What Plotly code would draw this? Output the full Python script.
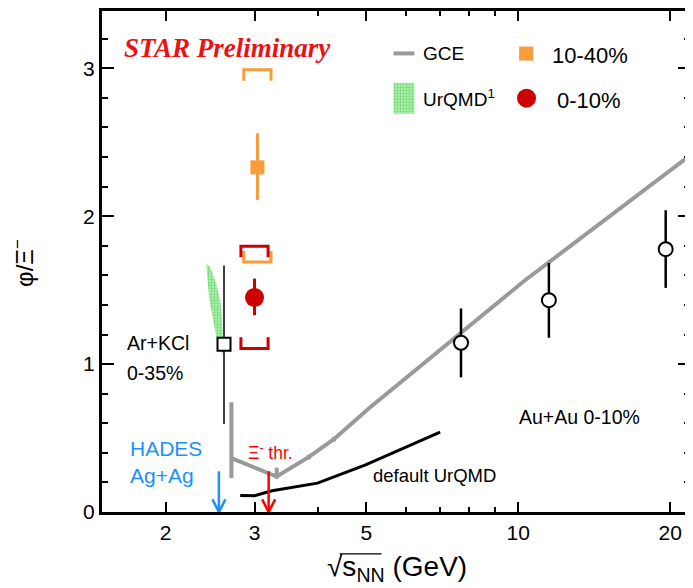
import numpy as np
import plotly.graph_objects as go

# ---------------- data ----------------
# GCE curve (phi/Xi- vs sqrt(sNN))
gce_x = [2.70, 3.32, 3.84, 4.31, 5.06, 10.3, 21.9]
gce_y = [0.364, 0.24, 0.371, 0.492, 0.701, 1.565, 2.41]
gce_err_plus = [0.378, 0.06, 0.015, 0.015, 0.0, 0.0, 0.0]
gce_err_minus = [0.135, 0.015, 0.015, 0.015, 0.0, 0.0, 0.0]

# default UrQMD curve
urqmd_x = [2.81, 3.0, 3.25, 4.0, 4.98, 7.0]
urqmd_y = [0.112, 0.11, 0.144, 0.195, 0.319, 0.54]

# UrQMD (ref 1) band, outline
band_x = [2.407, 2.451, 2.519, 2.565, 2.584, 2.596, 2.596,
          2.565, 2.519, 2.474, 2.443, 2.424, 2.407, 2.407]
band_y = [1.679, 1.656, 1.544, 1.432, 1.319, 1.184, 1.061,
          1.094, 1.184, 1.319, 1.432, 1.544, 1.656, 1.679]

# STAR 3 GeV, 10-40%
c1040_x = [3.04]
c1040_y = [2.33]
c1040_stat_plus = [0.23]
c1040_stat_minus = [0.22]
c1040_sys_hi = [2.99]
c1040_sys_lo = [1.69]

# STAR 3 GeV, 0-10%
c010_x = [3.0]
c010_y = [1.45]
c010_stat_plus = [0.128]
c010_stat_minus = [0.12]
c010_sys_hi = [1.797]
c010_sys_lo = [1.106]

# HADES Ar+KCl 0-35%
arkcl_x = [2.61]
arkcl_y = [1.134]
arkcl_err_plus = [0.533]
arkcl_err_minus = [0.539]

# Au+Au 0-10%
auau_x = [7.7, 11.5, 19.6]
auau_y = [1.144, 1.432, 1.777]
auau_err_plus = [0.232, 0.252, 0.263]
auau_err_minus = [0.234, 0.254, 0.262]

# arrows (energies)
hades_agag_energy = 2.55
xi_threshold_energy = 3.2
arrow_top = 0.275

x_tick_vals = [2, 3, 5, 10, 20]
x_tick_text = ["2", "3", "5", "10", "20"]
x_minor_vals = [4, 6, 7, 8, 9]
y_tick_vals = [0, 1, 2, 3]
y_tick_text = ["0", "1", "2", "3"]

# ---------------- styles ----------------
ORANGE = "#f89c3c"
DARKRED = "#cc0000"
RED = "#ff0000"
BLUE = "#1e90ff"
GRAY = "#9a9a9a"
FONT = "Liberation Sans, Arial, Helvetica, sans-serif"

# plot area in reference pixels
L, R, T, B = 102, 693, 10, 512
PAGE_OFF = 8           # the page body margin shifts the figure by this much
W = 693 - PAGE_OFF
H = 588 - PAGE_OFF


def fx(px):
    return (px - L) / (R - L)


def fy(py):
    return (B - py) / (B - T)


def bracket(xs, ys, top, f=1.064, leg=0.075):
    bx, by = [], []
    for x, y in zip(xs, ys):
        d = -leg if top else leg
        bx += [x / f, x / f, x * f, x * f, None]
        by += [y + d, y, y, y + d, None]
    return bx, by


def arrow(e, top, f=1.03, head=0.085):
    # shaft then open V head, tip on the axis
    return ([e, e, None, e / f, e, e * f],
            [top, 0, None, head, 0, head])


fig = go.Figure()

PATTERN = dict(shape=".", fgcolor="#2fc22f", bgcolor="#b3f2b3", size=3, solidity=0.45)

# UrQMD band
fig.add_trace(go.Scatter(
    x=band_x, y=band_y, mode="lines", fill="toself",
    line=dict(width=0, color="rgba(0,0,0,0)"),
    fillcolor="#a6eea6", fillpattern=PATTERN, hoverinfo="skip"))

# GCE
fig.add_trace(go.Scatter(
    x=gce_x, y=gce_y, mode="lines",
    line=dict(color=GRAY, width=4),
    error_y=dict(type="data", symmetric=False, array=gce_err_plus,
                 arrayminus=gce_err_minus, color=GRAY, thickness=4, width=0)))

# default UrQMD
fig.add_trace(go.Scatter(
    x=urqmd_x, y=urqmd_y, mode="lines", line=dict(color="black", width=3)))

# systematic brackets
for xs, lo, hi, col in [(c1040_x, c1040_sys_lo, c1040_sys_hi, ORANGE),
                        (c010_x, c010_sys_lo, c010_sys_hi, DARKRED)]:
    bx, by = bracket(xs, hi, True)
    fig.add_trace(go.Scatter(x=bx, y=by, mode="lines", line=dict(color=col, width=3)))
    bx, by = bracket(xs, lo, False)
    fig.add_trace(go.Scatter(x=bx, y=by, mode="lines", line=dict(color=col, width=3)))

# arrows
for e, col in [(hades_agag_energy, BLUE), (xi_threshold_energy, RED)]:
    ax_, ay_ = arrow(e, arrow_top)
    fig.add_trace(go.Scatter(x=ax_, y=ay_, mode="lines",
                             line=dict(color=col, width=2.5)))

# HADES Ar+KCl
fig.add_trace(go.Scatter(
    x=arkcl_x, y=arkcl_y, mode="markers",
    marker=dict(symbol="square", size=13, color="white", line=dict(color="black", width=2)),
    error_y=dict(type="data", symmetric=False, array=arkcl_err_plus,
                 arrayminus=arkcl_err_minus, color="black", thickness=1.5, width=0)))

# STAR 10-40%
fig.add_trace(go.Scatter(
    x=c1040_x, y=c1040_y, mode="markers",
    marker=dict(symbol="square", size=14, color=ORANGE),
    error_y=dict(type="data", symmetric=False, array=c1040_stat_plus,
                 arrayminus=c1040_stat_minus, color=ORANGE, thickness=3, width=0)))

# STAR 0-10%
fig.add_trace(go.Scatter(
    x=c010_x, y=c010_y, mode="markers",
    marker=dict(symbol="circle", size=19, color=DARKRED),
    error_y=dict(type="data", symmetric=False, array=c010_stat_plus,
                 arrayminus=c010_stat_minus, color=DARKRED, thickness=3, width=0)))

# Au+Au
fig.add_trace(go.Scatter(
    x=auau_x, y=auau_y, mode="markers",
    marker=dict(symbol="circle", size=14, color="white", line=dict(color="black", width=2)),
    error_y=dict(type="data", symmetric=False, array=auau_err_plus,
                 arrayminus=auau_err_minus, color="black", thickness=2.5, width=0)))

# ---------------- legend (overlay axes in plot fractions) ----------------
fig.add_trace(go.Scatter(x=[fx(395), fx(416)], y=[fy(52.5), fy(52.5)], mode="lines",
                         line=dict(color=GRAY, width=4), xaxis="x2", yaxis="y2"))
fig.add_trace(go.Scatter(
    x=[fx(395), fx(416), fx(416), fx(395), fx(395)],
    y=[fy(82), fy(82), fy(113), fy(113), fy(82)],
    mode="lines", fill="toself", line=dict(width=0, color="rgba(0,0,0,0)"),
    fillcolor="#a6eea6", fillpattern=PATTERN, xaxis="x2", yaxis="y2"))
fig.add_trace(go.Scatter(x=[fx(528.3)], y=[fy(52.7)], mode="markers",
                         marker=dict(symbol="square", size=14, color=ORANGE),
                         xaxis="x2", yaxis="y2"))
fig.add_trace(go.Scatter(x=[fx(528.7)], y=[fy(97.3)], mode="markers",
                         marker=dict(symbol="circle", size=19, color=DARKRED),
                         xaxis="x2", yaxis="y2"))

annotations = []


def note(text, px, py, size, color="black", family=FONT, xanchor="left", **kw):
    annotations.append(dict(text=text, x=fx(px), y=fy(py), xref="paper", yref="paper",
                            xanchor=xanchor, yanchor="middle", showarrow=False,
                            font=dict(size=size, color=color, family=family), **kw))


note("<b><i>STAR Preliminary</i></b>", 122, 47, 27, color="#ee1111",
     family="Liberation Serif, Times New Roman, serif")
note("GCE", 423, 53, 19)
note("UrQMD<sup>1</sup>", 423, 97, 19)
note("10-40%", 552, 55, 22)
note("0-10%", 557, 100, 22)
note("Ar+KCl", 125, 343, 19.5)
note("0-35%", 125, 373, 19.5)
note("HADES", 128, 448, 21, color=BLUE)
note("Ag+Ag", 128, 475, 21, color=BLUE)
note("Ξ<sup>-</sup> thr.", 247, 452, 17.5, color=RED)
note("default UrQMD", 372, 475, 18.5)
note("Au+Au 0-10%", 519, 417, 19.5)
note("φ/Ξ<sup>−</sup>", 23, 262, 24, xanchor="center", textangle=-90)
note("√s<sub>NN</sub> (GeV)", 399, 569, 28, xanchor="center")

# overline of the square root in the x title (decoration, paper coordinates)
shapes = [dict(type="line", xref="paper", yref="paper",
               x0=fx(341), x1=fx(383), y0=fy(554), y1=fy(554),
               line=dict(color="black", width=1.3))]

fig.update_layout(
    width=W, height=H,
    margin=dict(l=L - PAGE_OFF, r=693 - R, t=T - PAGE_OFF, b=588 - B, pad=0),
    plot_bgcolor="white", paper_bgcolor="white",
    showlegend=False,
    font=dict(family=FONT, color="black"),
    annotations=annotations,
    shapes=shapes,
    xaxis=dict(type="log", range=[np.log10(1.4955), np.log10(21.9)],
               tickmode="array", tickvals=x_tick_vals, ticktext=x_tick_text,
               ticks="inside", ticklen=10, tickwidth=1.5, tickcolor="black",
               showline=True, linewidth=3, linecolor="black", mirror="ticks",
               showgrid=False, zeroline=False, tickfont=dict(size=21),
               minor=dict(tickvals=x_minor_vals, ticks="inside", ticklen=5,
                          tickwidth=1.5, tickcolor="black", showgrid=False)),
    yaxis=dict(range=[0, 3.387], tickmode="array", tickvals=y_tick_vals, ticktext=y_tick_text,
               ticks="inside", ticklen=12, tickwidth=1.5, tickcolor="black",
               showline=True, linewidth=3, linecolor="black", mirror="ticks",
               showgrid=False, zeroline=False, tickfont=dict(size=21),
               minor=dict(dtick=0.2, ticks="inside", ticklen=6, tickwidth=1.5,
                          tickcolor="black", showgrid=False)),
    xaxis2=dict(overlaying="x", range=[0, 1], visible=False, fixedrange=True),
    yaxis2=dict(overlaying="y", range=[0, 1], visible=False, fixedrange=True),
)

fig.write_html("out.html")
